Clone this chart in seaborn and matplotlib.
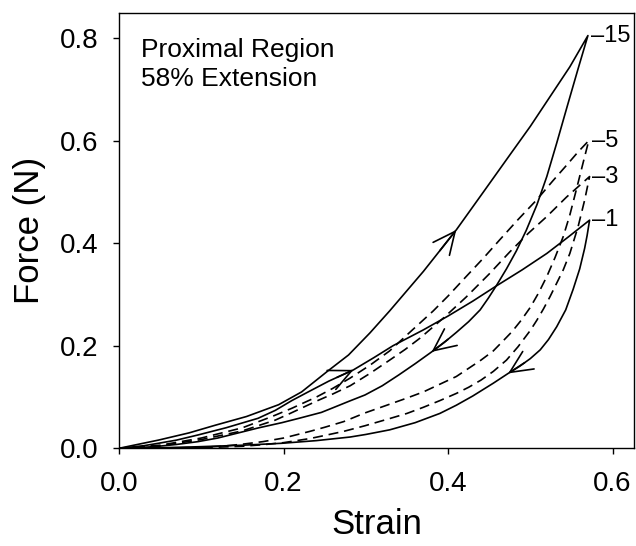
import numpy as np
import pandas as pd
import matplotlib
matplotlib.use("Agg")
import matplotlib.pyplot as plt
import seaborn as sns

# ---------------- data ----------------
cycles = ["1", "3", "5", "15"]
cycle_style = {"1": "solid", "3": "dashed", "5": "dashed", "15": "solid"}

# cycle 1
load_strain_1 = [0, 0.03, 0.048, 0.07, 0.096, 0.13, 0.169, 0.19, 0.21, 0.23, 0.255, 0.285, 0.31,
                 0.333, 0.37, 0.40, 0.43, 0.459, 0.49, 0.52, 0.546, 0.572]
load_force_1 = [0, 0.005, 0.0098, 0.016, 0.026, 0.04, 0.0585, 0.074, 0.093, 0.110, 0.131, 0.153, 0.177,
                0.2, 0.231, 0.258, 0.287, 0.317, 0.348, 0.38, 0.412, 0.445]
unload_strain_1 = [0.572, 0.569, 0.566, 0.56, 0.552, 0.543, 0.532, 0.522, 0.512, 0.50, 0.487, 0.473,
                   0.455, 0.43, 0.41, 0.39, 0.36, 0.329, 0.30, 0.281, 0.24, 0.198, 0.15, 0.096, 0.05, 0]
unload_force_1 = [0.445, 0.415, 0.39, 0.35, 0.31, 0.27, 0.237, 0.212, 0.192, 0.175, 0.16, 0.146,
                  0.127, 0.102, 0.084, 0.068, 0.05, 0.036, 0.027, 0.022, 0.015, 0.0098, 0.006, 0.003, 0.001, 0]

# cycle 3
load_strain_3 = [0, 0.05, 0.10, 0.15, 0.19, 0.208, 0.24, 0.26, 0.281, 0.305, 0.329, 0.348, 0.366,
                 0.395, 0.422, 0.45, 0.475, 0.498, 0.52, 0.544, 0.558, 0.572]
load_force_3 = [0, 0.005, 0.017, 0.034, 0.055, 0.068, 0.092, 0.106, 0.122, 0.146, 0.172, 0.193, 0.215,
                0.255, 0.295, 0.34, 0.383, 0.42, 0.452, 0.49, 0.51, 0.530]
unload_strain_3 = [0.572, 0.566, 0.558, 0.548, 0.540, 0.532, 0.524, 0.516, 0.508, 0.50, 0.485, 0.471,
                   0.455, 0.44, 0.425, 0.41, 0.39, 0.37, 0.35, 0.329, 0.299, 0.273, 0.25, 0.232, 0.20,
                   0.175, 0.15, 0.10, 0.05, 0]
unload_force_3 = [0.530, 0.484, 0.432, 0.38, 0.348, 0.322, 0.296, 0.272, 0.25, 0.23, 0.198, 0.172,
                  0.15, 0.133, 0.119, 0.107, 0.093, 0.08, 0.068, 0.058, 0.044, 0.033, 0.025, 0.019, 0.011,
                  0.007, 0.004, 0.001, 0, 0]

# cycle 5
load_strain_5 = [0, 0.05, 0.10, 0.15, 0.186, 0.21, 0.24, 0.26, 0.281, 0.305, 0.329, 0.354, 0.382,
                 0.40, 0.422, 0.443, 0.463, 0.485, 0.508, 0.527, 0.544, 0.558, 0.571]
load_force_5 = [0, 0.006, 0.02, 0.04, 0.062, 0.078, 0.10, 0.117, 0.137, 0.162, 0.19, 0.227, 0.268,
                0.297, 0.335, 0.371, 0.407, 0.446, 0.485, 0.521, 0.552, 0.578, 0.600]
unload_strain_5 = [0.571, 0.564, 0.556, 0.548, 0.540, 0.530, 0.52, 0.51, 0.50, 0.489, 0.478, 0.466,
                   0.455, 0.44, 0.425, 0.41, 0.39, 0.37, 0.35, 0.329, 0.299, 0.273, 0.25, 0.232, 0.20,
                   0.175, 0.15, 0.125, 0.10, 0.05, 0]
unload_force_5 = [0.600, 0.556, 0.505, 0.455, 0.413, 0.372, 0.335, 0.303, 0.275, 0.25, 0.228, 0.208,
                  0.19, 0.172, 0.156, 0.14, 0.125, 0.11, 0.098, 0.086, 0.069, 0.052, 0.041, 0.033, 0.02,
                  0.013, 0.008, 0.004, 0.002, 0.0, 0]

# cycle 15
load_strain_15 = [0, 0.048, 0.085, 0.117, 0.155, 0.194, 0.222, 0.254, 0.279, 0.305, 0.329, 0.37,
                  0.41, 0.443, 0.475, 0.50, 0.524, 0.548, 0.570]
load_force_15 = [0, 0.016, 0.030, 0.045, 0.062, 0.085, 0.110, 0.151, 0.182, 0.225, 0.268, 0.345,
                 0.426, 0.50, 0.572, 0.628, 0.686, 0.744, 0.805]
unload_strain_15 = [0.570, 0.558, 0.545, 0.532, 0.520, 0.508, 0.495, 0.483, 0.471, 0.459, 0.449, 0.439,
                    0.425, 0.41, 0.395, 0.38, 0.36, 0.34, 0.32, 0.299, 0.28, 0.26, 0.246, 0.22, 0.198,
                    0.17, 0.15, 0.12, 0.096, 0.07, 0.045, 0.02, 0]
unload_force_15 = [0.805, 0.740, 0.668, 0.595, 0.530, 0.475, 0.425, 0.385, 0.350, 0.318, 0.293, 0.270,
                   0.247, 0.226, 0.206, 0.188, 0.165, 0.143, 0.122, 0.104, 0.092, 0.079, 0.070, 0.059, 0.050,
                   0.040, 0.032, 0.020, 0.013, 0.0075, 0.0035, 0.001, 0]

# direction arrows: (cycle, branch, strain at the arrow tip)
arrow_cycles = ["15", "1", "15", "1"]
arrow_branches = ["load", "load", "unload", "unload"]
arrow_tip_strain = [0.41, 0.285, 0.38, 0.473]

annotation_text = "Proximal Region\n58% Extension"
x_label = "Strain"
y_label = "Force (N)"
x_ticks = [0.0, 0.2, 0.4, 0.6]
y_ticks = [0.0, 0.2, 0.4, 0.6, 0.8]

# ---------------- build table ----------------
branches = {
    ("1", "load"): (load_strain_1, load_force_1), ("1", "unload"): (unload_strain_1, unload_force_1),
    ("3", "load"): (load_strain_3, load_force_3), ("3", "unload"): (unload_strain_3, unload_force_3),
    ("5", "load"): (load_strain_5, load_force_5), ("5", "unload"): (unload_strain_5, unload_force_5),
    ("15", "load"): (load_strain_15, load_force_15), ("15", "unload"): (unload_strain_15, unload_force_15),
}
rows = []
for c in cycles:
    order = 0
    for b in ["load", "unload"]:
        xs, ys = branches[(c, b)]
        for x, y in zip(xs, ys):
            rows.append({"strain": x, "force": y, "cycle": c, "kind": cycle_style[c], "order": order})
            order += 1
df = pd.DataFrame(rows)

# ---------------- plot ----------------
sns.set_theme(style="ticks")
plt.rcParams["font.family"] = ["Liberation Sans", "DejaVu Sans"]
plt.rcParams["text.color"] = "black"
plt.rcParams["axes.labelcolor"] = "black"
plt.rcParams["xtick.color"] = "black"
plt.rcParams["ytick.color"] = "black"

fig = plt.figure(figsize=(6.36, 5.46), dpi=100)
ax = fig.add_axes([119 / 636, (546 - 448.3) / 546, 515 / 636, 435.3 / 546])

sns.lineplot(data=df, x="strain", y="force", units="cycle", style="kind",
             estimator=None, sort=False, color="black", linewidth=1.2,
             dashes={"solid": "", "dashed": (6, 3.5)}, legend=False, ax=ax)

# arrows along curves
for c, b, s in zip(arrow_cycles, arrow_branches, arrow_tip_strain):
    xs, ys = branches[(c, b)]
    xs = np.asarray(xs, float)
    ys = np.asarray(ys, float)
    idx = np.argsort(xs)
    tip_y = np.interp(s, xs[idx], ys[idx])
    tail_s = s - 0.02 if b == "load" else s + 0.02
    tail_y = np.interp(tail_s, xs[idx], ys[idx])
    ax.annotate("", xy=(s, tip_y), xytext=(tail_s, tail_y),
                arrowprops=dict(arrowstyle="->,head_length=1.6,head_width=0.75",
                                color="black", lw=1.2, shrinkA=0, shrinkB=0,
                                mutation_scale=10))

# cycle labels at loop peaks
for c in cycles:
    xs, ys = branches[(c, "load")]
    ax.annotate("\u2013" + c, xy=(xs[-1], ys[-1]), xytext=(2, 0), textcoords="offset points",
                ha="left", va="center", fontsize=17, color="black")

ax.text(0.043, 0.9426, annotation_text, transform=ax.transAxes, ha="left", va="top",
        fontsize=19, linespacing=1.26, color="black")

ax.set_xlim(0, 0.626)
ax.set_ylim(0, 0.849)
ax.set_xticks(x_ticks)
ax.set_yticks(y_ticks)
ax.set_xticklabels([f"{t:.1f}" for t in x_ticks])
ax.set_yticklabels([f"{t:.1f}" for t in y_ticks])
ax.tick_params(axis="both", labelsize=20, length=4, width=1, direction="out",
               color="black", labelcolor="black")
ax.tick_params(axis="x", pad=12)
ax.tick_params(axis="y", pad=11)
ax.set_xlabel(x_label, fontsize=25, labelpad=8, color="black")
ax.set_ylabel(y_label, fontsize=25, labelpad=10, color="black")
for sp in ax.spines.values():
    sp.set_color("black")
    sp.set_linewidth(1.0)
    sp.set_visible(True)

fig.savefig("out.png", dpi=100)
